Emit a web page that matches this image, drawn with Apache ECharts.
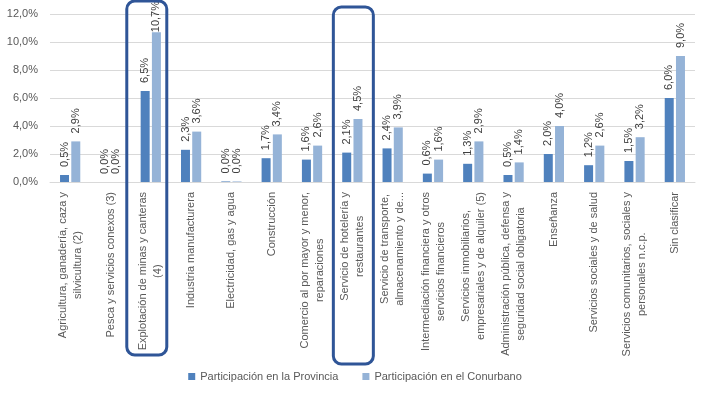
<!DOCTYPE html>
<html><head><meta charset="utf-8">
<script src="https://cdn.jsdelivr.net/npm/echarts@6/dist/echarts.min.js"></script>
<style>html,body{margin:0;padding:0;background:#fff}#c{width:710px;height:396px}</style>
</head><body><div id="c"></div>
<script>
const categories = [
  "Agricultura, ganadería, caza y\nsilvicultura (2)",
  "Pesca y servicios conexos (3)",
  "Explotación de minas y canteras\n(4)",
  "Industria manufacturera",
  "Electricidad, gas y agua",
  "Construcción",
  "Comercio al por mayor y menor,\nreparaciones",
  "Servicio de hotelería y\nrestaurantes",
  "Servicio de transporte,\nalmacenamiento y de...",
  "Intermediación financiera y otros\nservicios financieros",
  "Servicios inmobiliarios,\nempresariales y de alquiler (5)",
  "Administración pública, defensa y\nseguridad social obligatoria",
  "Enseñanza",
  "Servicios sociales y de salud",
  "Servicios comunitarios, sociales y\npersonales n.c.p.",
  "Sin clasificar"
];
const seriesNames = ["Participación en la Provincia", "Participación en el Conurbano"];
const provincia = [0.5, 0.0, 6.5, 2.3, 0.04, 1.7, 1.6, 2.1, 2.4, 0.6, 1.3, 0.5, 2.0, 1.2, 1.5, 6.0];
const conurbano = [2.9, 0.0, 10.7, 3.6, 0.04, 3.4, 2.6, 4.5, 3.9, 1.6, 2.9, 1.4, 4.0, 2.6, 3.2, 9.0];
const highlighted = [2, 7];

const FONT = "Liberation Sans";
const fmt = v => v.toFixed(1).replace('.', ',') + '%';
const chart = echarts.init(document.getElementById('c'), null, {renderer: 'canvas'});

function mkSeries(name, data, color) {
  return {
    name, type: 'bar', barWidth: 9, barGap: '25%',
    // labels near the top of the plot are pulled down onto the bar end (as Excel does)
    data: data.map(v => (v > 10 ? {value: v, label: {distance: 0}} : v)),
    itemStyle: {color},
    label: {
      show: true, position: 'top', rotate: 90, align: 'left', verticalAlign: 'middle',
      distance: 8, color: '#404040', fontFamily: FONT, fontSize: 11,
      formatter: p => fmt(p.value)
    }
  };
}

chart.setOption({
  animation: false,
  grid: {left: 50, right: 15, top: 14, bottom: 214, containLabel: false},
  legend: {
    bottom: 9, left: 'center', icon: 'rect', itemWidth: 7, itemHeight: 7, itemGap: 24,
    textStyle: {color: '#595959', fontFamily: FONT, fontSize: 11},
    data: seriesNames
  },
  xAxis: {
    type: 'category', data: categories,
    axisLine: {lineStyle: {color: '#d9d9d9'}},
    axisTick: {show: false},
    axisLabel: {
      interval: 0, rotate: 90, margin: 10, color: '#595959',
      fontFamily: FONT, fontSize: 11, lineHeight: 15,
      formatter: v => v.split('\n').map(s => '{c|' + s + '}').join('\n'),
      rich: {c: {align: 'center', color: '#595959', fontFamily: FONT, fontSize: 11, lineHeight: 15}}
    }
  },
  yAxis: {
    type: 'value', min: 0, max: 12, interval: 2,
    axisLine: {show: false}, axisTick: {show: false},
    splitLine: {lineStyle: {color: '#d9d9d9'}},
    axisLabel: {color: '#595959', fontFamily: FONT, fontSize: 11, margin: 12, formatter: v => fmt(v)}
  },
  series: [mkSeries(seriesNames[0], provincia, '#4f81bd'), mkSeries(seriesNames[1], conurbano, '#95b3d7')]
});

// highlight boxes around selected categories
const boxStyle = [{dx: -4, top: 1, bottom: 355}, {dx: 1, top: 7, bottom: 364}];
const graphics = highlighted.map((ci, i) => {
  const cx = chart.convertToPixel({xAxisIndex: 0}, ci);
  const s = boxStyle[i];
  return {
    type: 'rect', z: 100,
    shape: {x: cx + s.dx - 20, y: s.top, width: 40, height: s.bottom - s.top, r: 8},
    style: {fill: 'none', stroke: '#2f5597', lineWidth: 3}
  };
});
chart.setOption({graphic: graphics});
</script></body></html>
